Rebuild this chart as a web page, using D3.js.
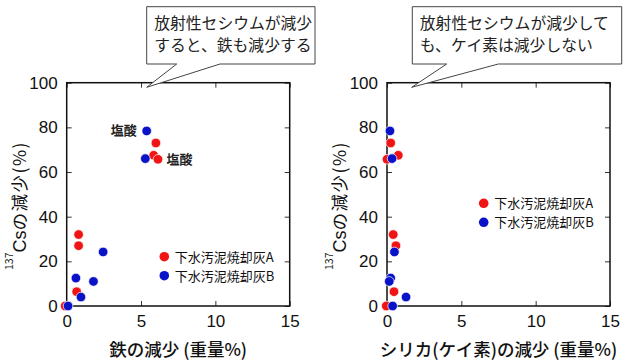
<!DOCTYPE html>
<html>
<head>
<meta charset="utf-8">
<script src="https://cdn.jsdelivr.net/npm/d3@7"></script>
<style>
  body { margin: 0; background: #fff; }
  svg { display: block; }
  .tick line { stroke: #333; }
</style>
</head>
<body>
<div id="chart-area"></div>
<script>
// Cs reduction (%) for each ash sample
const csA = [32, 27, 6.4, 0, 73, 67.5, 65.7];
const csB = [0, 12.5, 4, 11, 24.2, 78.4, 66];
// iron reduction (wt%)
const feA = [0.8, 0.8, 0.67, -0.1, 6.0, 5.85, 6.14];
const feB = [0.09, 0.62, 0.96, 1.8, 2.45, 5.38, 5.29];
// silica reduction (wt%)
const siA = [0.42, 0.6, 0.47, -0.05, 0.25, 0.76, 0.0];
const siB = [0.38, 0.25, 1.28, 0.15, 0.5, 0.2, 0.34];

const xTicks = [0, 5, 10, 15];
const yTicks = [0, 20, 40, 60, 80, 100];
const seriesNames = ["下水汚泥焼却灰A", "下水汚泥焼却灰B"];
const colors = ["#f01414", "#0a12c8"];

const latin = "'Liberation Sans', Arial, sans-serif";
const cjk = "'Noto Sans CJK JP', sans-serif";

const svg = d3.select("#chart-area")
              .append("svg")
              .attr("width", 628)
              .attr("height", 360);

const drawPanel = (opt) => {
  const x = d3.scaleLinear().domain([0, 15]).range([opt.left, opt.left + 223]);
  const y = d3.scaleLinear().domain([0, 100]).range([306, 82.7]);

  const g = svg.append("g");

  // ticks pointing inward on all four sides
  const axB = d3.axisBottom(x).tickValues(xTicks).tickSizeInner(-5).tickSizeOuter(0).tickPadding(9);
  const axT = d3.axisTop(x).tickValues(xTicks).tickSizeInner(-5).tickSizeOuter(0).tickFormat("");
  const axL = d3.axisLeft(y).tickValues(yTicks).tickSizeInner(-5).tickSizeOuter(0).tickPadding(9);
  const axR = d3.axisRight(y).tickValues(yTicks).tickSizeInner(-5).tickSizeOuter(0).tickFormat("");

  g.append("g").attr("transform", "translate(0,306)").call(axB);
  g.append("g").attr("transform", "translate(0,82.7)").call(axT);
  g.append("g").attr("transform", "translate(" + opt.left + ",0)").call(axL);
  g.append("g").attr("transform", "translate(" + (opt.left + 223) + ",0)").call(axR);

  g.selectAll(".domain").remove();
  g.selectAll(".tick text")
   .attr("font-family", latin)
   .attr("font-size", 17)
   .attr("fill", "#111");

  g.append("rect")
   .attr("x", opt.left)
   .attr("y", 82.7)
   .attr("width", 223)
   .attr("height", 306 - 82.7)
   .attr("fill", "none")
   .attr("stroke", "#111")
   .attr("stroke-width", 1.5);

  // points
  [[opt.xa, csA, colors[0]], [opt.xb, csB, colors[1]]].forEach(([xs, ys, c]) => {
    g.append("g")
     .selectAll("circle")
     .data(xs)
     .enter()
     .append("circle")
     .attr("cx", d => x(d))
     .attr("cy", (d, i) => y(ys[i]))
     .attr("r", 4.8)
     .attr("fill", c)
     .attr("stroke", "rgba(255,255,255,0.7)")
     .attr("stroke-width", 1);
  });

  // legend
  seriesNames.forEach((name, i) => {
    g.append("circle")
     .attr("cx", opt.legX)
     .attr("cy", opt.legY + i * 19)
     .attr("r", 4.8)
     .attr("fill", colors[i]);
    g.append("text")
     .attr("x", opt.legX + 10.5)
     .attr("y", opt.legY + i * 19 + 5)
     .attr("font-family", cjk)
     .attr("font-size", 13)
     .attr("fill", "#111")
     .text(name);
  });

  // axis titles
  g.append("text")
   .attr("x", opt.left + 111.5)
   .attr("y", 356)
   .attr("text-anchor", "middle")
   .attr("font-family", cjk)
   .attr("font-size", 17.5)
   .attr("font-weight", 500)
   .attr("fill", "#111")
   .text(opt.xTitle);

  const yt = g.append("text")
   .attr("transform", "translate(" + (opt.left - 41) + ",270) rotate(-90)")
   .attr("font-family", cjk)
   .attr("fill", "#111");
  yt.append("tspan").attr("font-size", 10.5).attr("dy", -13).text("137");
  yt.append("tspan").attr("font-size", 18).attr("dy", 13).attr("font-family", latin).text("Cs");
  yt.append("tspan").attr("font-size", 17.5).attr("letter-spacing", 1.5).text("の減少(%)");

  // callout
  const b = opt.box;
  g.append("path")
   .attr("d", `M${b.x0},${b.y0}H${b.x1}V${b.y1}H${b.t2}L${b.tx},${b.ty}L${b.t1},${b.y1}H${b.x0}Z`)
   .attr("fill", "#fff")
   .attr("stroke", "#444")
   .attr("stroke-width", 1);
  opt.boxText.forEach((t, i) => {
    g.append("text")
     .attr("x", b.x0 + 7.5)
     .attr("y", 28.8 + i * 22.5)
     .attr("font-family", cjk)
     .attr("font-size", 15.8)
     .attr("fill", "#222")
     .text(t);
  });

  return { x, y, g };
};

const left = drawPanel({
  left: 66.7,
  xa: feA, xb: feB,
  legX: 164.3, legY: 256.7,
  xTitle: "鉄の減少 (重量%)",
  box: { x0: 146.7, y0: 6.7, x1: 315, y1: 64, t1: 176.7, t2: 220, tx: 146.7, ty: 87.3 },
  boxText: ["放射性セシウムが減少", "すると、鉄も減少する"]
});

drawPanel({
  left: 387,
  xa: siA, xb: siB,
  legX: 483.7, legY: 203.3,
  xTitle: "シリカ(ケイ素)の減少 (重量%)",
  box: { x0: 412.3, y0: 6.7, x1: 621.7, y1: 64, t1: 446.7, t2: 498.3, tx: 411.7, ty: 87.3 },
  boxText: ["放射性セシウムが減少して", "も、ケイ素は減少しない"]
});

// hydrochloric acid labels
left.g.append("text")
  .attr("x", left.x(feB[5]) - 10)
  .attr("y", left.y(csB[5]) + 4.5)
  .attr("text-anchor", "end")
  .attr("font-family", cjk)
  .attr("font-size", 13)
  .attr("font-weight", "bold")
  .attr("fill", "#222")
  .text("塩酸");

left.g.append("text")
  .attr("x", left.x(feA[6]) + 8.5)
  .attr("y", left.y(csA[6]) + 4.5)
  .attr("font-family", cjk)
  .attr("font-size", 13)
  .attr("font-weight", "bold")
  .attr("fill", "#222")
  .text("塩酸");
</script>
</body>
</html>
